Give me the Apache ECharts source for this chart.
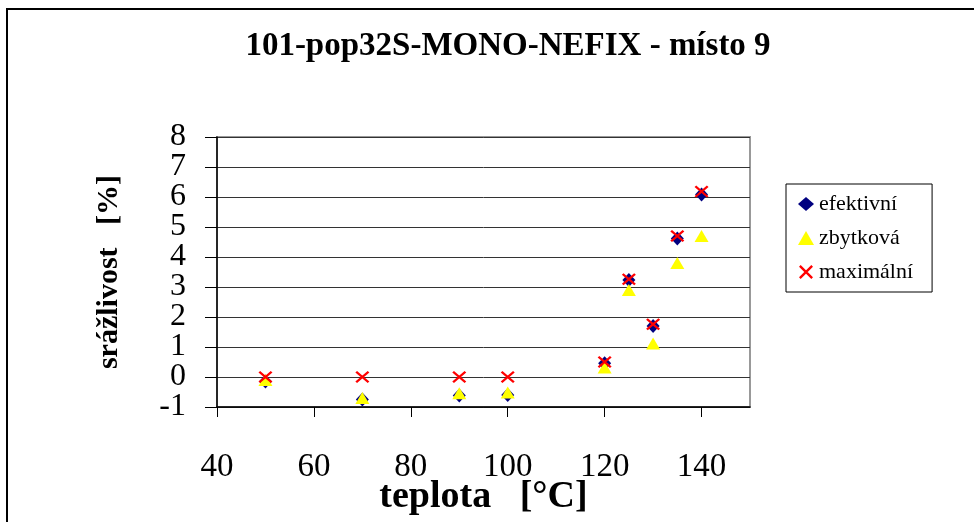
<!DOCTYPE html>
<html>
<head>
<meta charset="utf-8">
<script src="https://cdn.jsdelivr.net/npm/echarts@6/dist/echarts.min.js"></script>
<style>
  html, body { margin: 0; padding: 0; background: #fff; }
  #chart { width: 974px; height: 522px; }
</style>
</head>
<body>
<div id="chart"></div>
<script>
// teploty [°C]
var teplota = [50, 70, 90, 100, 120, 125, 130, 135, 140];
// srazlivost [%]
var efektivni = [-0.15, -0.75, -0.62, -0.6, 0.46, 3.23, 1.7, 4.62, 6.08];
var zbytkova  = [-0.1, -0.7, -0.54, -0.52, 0.32, 2.9, 1.12, 3.8, 4.7];
var maximalni = [0, 0, 0, 0, 0.5, 3.26, 1.76, 4.7, 6.18];
var yTicks = [-1, 0, 1, 2, 3, 4, 5, 6, 7, 8];
var xTicks = [40, 60, 80, 100, 120, 140];

function pairs(ys) {
  return teplota.map(function (x, i) { return [x, ys[i]]; });
}

var font = 'Liberation Serif';
var crossPath = 'path://M0,1.2L1.2,0L10,8.8L8.8,10Z M8.8,0L10,1.2L1.2,10L0,8.8Z';

// labels are big (32px) on a 30px step, so split them over two axes to stop ECharts hiding some
var yOdd = yTicks.filter(function (v, i) { return i % 2 === 0; });
var yEven = yTicks.filter(function (v, i) { return i % 2 === 1; });
var yLabelStyle = { margin: 31, fontFamily: font, fontSize: 32, color: '#000', showMinLabel: true, showMaxLabel: true };

var myChart = echarts.init(document.getElementById('chart'));

var option = {
  backgroundColor: '#fff',
  animation: false,
  title: {
    text: '101-pop32S-MONO-NEFIX - místo 9',
    left: 503, top: 25, textAlign: 'center',
    textStyle: { fontFamily: font, fontSize: 33, fontWeight: 'bold', color: '#000' }
  },
  grid: {
    left: 217, top: 137, right: 224, bottom: 115,
    outerBoundsMode: 'none',
    show: true, borderColor: '#999', borderWidth: 2
  },
  legend: {
    orient: 'vertical',
    left: 786, top: 184,
    padding: [9, 19, 9, 12],
    itemGap: 12,
    itemWidth: 16, itemHeight: 14,
    borderColor: '#000', borderWidth: 1,
    textStyle: { fontFamily: font, fontSize: 22, color: '#000' },
    data: ['efektivní', 'zbytková', 'maximální']
  },
  xAxis: {
    type: 'value', min: 40, max: 150, interval: 10,
    name: 'teplota   [°C]', nameLocation: 'middle', nameGap: 71, nameMoveOverlap: false,
    nameTextStyle: { fontFamily: font, fontSize: 38, fontWeight: 'bold', color: '#000' },
    axisLine: { show: true, onZero: false, lineStyle: { color: '#000', width: 1.5 } },
    axisTick: { show: true, length: 10, customValues: xTicks, lineStyle: { color: '#000' } },
    axisLabel: {
      margin: 44, fontFamily: font, fontSize: 33, color: '#000',
      customValues: xTicks, showMinLabel: true
    },
    splitLine: { show: false }
  },
  yAxis: [{
    type: 'value', min: yTicks[0], max: yTicks[yTicks.length - 1], interval: 1,
    position: 'left',
    name: 'srážlivost   [%]', nameLocation: 'middle', nameGap: 93, nameRotate: 90,
    nameTextStyle: { fontFamily: font, fontSize: 30, fontWeight: 'bold', color: '#000' },
    axisLine: { show: true, lineStyle: { color: '#000', width: 1.5 } },
    axisTick: { show: true, length: 12, customValues: yTicks, lineStyle: { color: '#000' } },
    axisLabel: Object.assign({ customValues: yOdd }, yLabelStyle),
    splitLine: { show: true, lineStyle: { color: '#333', width: 1 } }
  }, {
    type: 'value', min: yTicks[0], max: yTicks[yTicks.length - 1], interval: 1,
    position: 'left', offset: 0,
    axisLine: { show: false },
    axisTick: { show: false },
    axisLabel: Object.assign({ customValues: yEven }, yLabelStyle),
    splitLine: { show: false }
  }],
  graphic: [{
    type: 'polyline',
    shape: { points: [[7, 530], [7, 9], [980, 9]] },
    style: { stroke: '#000', lineWidth: 2, fill: null }
  }],
  series: [{
    name: 'efektivní', type: 'scatter',
    symbol: 'diamond', symbolSize: [13, 14],
    itemStyle: { color: '#000080', opacity: 1 },
    data: pairs(efektivni)
  }, {
    name: 'zbytková', type: 'scatter',
    symbol: 'triangle', symbolSize: [14, 12],
    itemStyle: { color: '#ffff00', opacity: 1 },
    data: pairs(zbytkova)
  }, {
    name: 'maximální', type: 'scatter',
    symbol: crossPath, symbolSize: [14, 12],
    itemStyle: { color: '#ff0000', opacity: 1 },
    data: pairs(maximalni)
  }]
};

myChart.setOption(option);
</script>
</body>
</html>
